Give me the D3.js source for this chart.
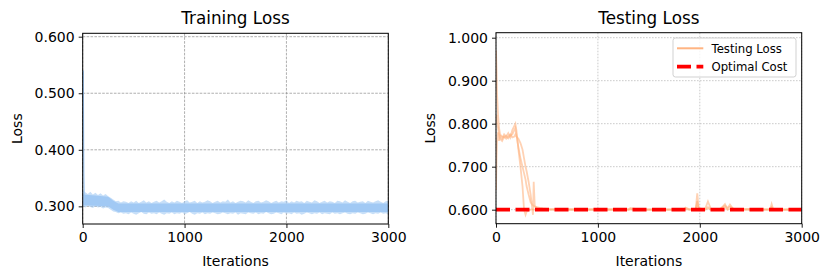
<!DOCTYPE html>
<html><head><meta charset="utf-8">
<script src="https://cdn.jsdelivr.net/npm/d3@7"></script>
<style>body{margin:0;background:#fff}svg{display:block}text{font-family:"DejaVu Sans",sans-serif;fill:#000}</style>
</head><body><svg id="c" width="831" height="280"></svg>
<script>
// ---------- data ----------
const xTicks = [0, 1000, 2000, 3000];
const trainYTicks = [0.3, 0.4, 0.5, 0.6];
const testYTicks = [0.6, 0.7, 0.8, 0.9, 1.0];

// training loss band: outer envelope every 25 iterations
const trainIters = d3.range(0, 3001, 25);
const trainUpper = [0.328,0.325,0.322,0.326,0.321,0.324,0.320,0.323,0.319,0.322,0.318,
0.315,0.312,0.309,0.310,0.307,0.309,
0.308,0.306,0.309,0.307,0.310,0.306,0.308,0.311,0.307,0.309,
0.306,0.308,0.310,0.307,0.309,0.312,0.308,0.306,0.309,0.307,
0.310,0.308,0.306,0.309,0.311,0.307,0.308,0.310,0.306,0.309,
0.307,0.308,0.311,0.309,0.306,0.308,0.310,0.307,0.309,0.308,
0.312,0.307,0.309,0.306,0.308,0.310,0.309,0.307,0.311,0.308,
0.306,0.309,0.310,0.307,0.308,0.311,0.309,0.306,0.308,0.310,
0.307,0.309,0.308,0.311,0.306,0.309,0.307,0.310,0.308,0.309,
0.306,0.310,0.308,0.307,0.311,0.309,0.306,0.308,0.310,0.307,
0.309,0.308,0.306,0.310,0.309,0.307,0.311,0.308,0.306,0.309,
0.310,0.307,0.308,0.309,0.306,0.310,0.308,0.307,0.309,0.311,
0.308,0.306,0.309,0.310];
const trainLower = [0.300,0.298,0.301,0.299,0.297,0.300,0.298,0.299,0.296,0.298,0.297,
0.294,0.291,0.290,0.288,0.289,0.287,
0.288,0.286,0.289,0.287,0.285,0.288,0.290,0.287,0.286,0.289,
0.287,0.288,0.286,0.289,0.287,0.285,0.288,0.287,0.289,0.286,
0.288,0.287,0.289,0.286,0.288,0.290,0.287,0.285,0.288,0.287,
0.289,0.286,0.288,0.287,0.289,0.288,0.286,0.287,0.289,0.288,
0.286,0.288,0.287,0.289,0.285,0.288,0.287,0.286,0.289,0.288,
0.287,0.289,0.286,0.288,0.287,0.290,0.288,0.286,0.287,0.289,
0.288,0.286,0.289,0.287,0.288,0.286,0.289,0.287,0.288,0.285,
0.287,0.289,0.288,0.286,0.288,0.287,0.289,0.286,0.288,0.287,
0.286,0.289,0.287,0.288,0.286,0.288,0.289,0.287,0.286,0.288,
0.287,0.289,0.288,0.286,0.287,0.289,0.288,0.286,0.288,0.287,
0.289,0.287,0.288,0.286];
// dense core of the training band
const trainCoreIters = [0, 120, 250, 300, 350, 3000];
const trainCoreLower = [0.302, 0.301, 0.300, 0.294, 0.290, 0.290];
const trainCoreUpper = [0.321, 0.319, 0.317, 0.310, 0.305, 0.305];
const trainSpikeIters = [6, 8, 11, 15];
const trainSpikeVals = [0.54, 0.45, 0.36, 0.32];

// testing loss (three runs)
const testIters = [0,5,10,20,30,40,60,80,100,120,140,160,180,190,200,220,240,260,275,290,300,320,340,355,363,370,380,400,430,460,500,600,800,1000,1200,1300,1320,1400,1600,1800,1850,1860,1900,1960,1975,1990,2050,2080,2110,2200,2247,2270,2296,2330,2400,2500,2600,2690,2705,2720,2800,2900,3000];
const testRunA = [0.97,0.93,0.87,0.82,0.79,0.775,0.77,0.768,0.772,0.766,0.772,0.775,0.785,0.79,0.775,0.745,0.72,0.70,0.685,0.67,0.655,0.635,0.617,0.612,0.61,0.609,0.607,0.606,0.604,0.603,0.602,0.601,0.600,0.601,0.600,0.601,0.604,0.600,0.601,0.600,0.601,0.605,0.601,0.602,0.615,0.603,0.601,0.606,0.601,0.602,0.61,0.604,0.607,0.602,0.601,0.602,0.600,0.601,0.606,0.601,0.600,0.601,0.600];
const testRunB = [0.646,0.72,0.76,0.78,0.76,0.772,0.765,0.775,0.77,0.778,0.768,0.785,0.795,0.80,0.785,0.74,0.70,0.655,0.60,0.588,0.595,0.598,0.600,0.601,0.600,0.600,0.600,0.601,0.600,0.600,0.600,0.600,0.601,0.600,0.600,0.600,0.601,0.600,0.600,0.600,0.600,0.603,0.600,0.601,0.638,0.602,0.600,0.619,0.601,0.600,0.613,0.602,0.612,0.601,0.600,0.601,0.600,0.600,0.613,0.601,0.600,0.600,0.600];
const testRunC = [0.80,0.82,0.80,0.79,0.775,0.765,0.76,0.77,0.765,0.77,0.775,0.768,0.77,0.775,0.77,0.765,0.755,0.74,0.72,0.70,0.69,0.665,0.635,0.605,0.588,0.665,0.61,0.603,0.601,0.600,0.600,0.600,0.600,0.600,0.601,0.600,0.602,0.600,0.600,0.600,0.600,0.601,0.600,0.600,0.62,0.601,0.600,0.603,0.600,0.600,0.606,0.600,0.602,0.600,0.600,0.600,0.601,0.600,0.603,0.600,0.600,0.600,0.600];
const optimalCost = 0.6;

// ---------- drawing ----------
const svg = d3.select("#c");
const fmt = d3.format(".3f");

function panel(o) {
  const g = svg.append("g");
  const x = d3.scaleLinear().domain([0, 3000]).range([o.left, o.right]);
  const y = d3.scaleLinear().domain(o.yDomain).range([o.bottom, o.top]);
  g.append("g").selectAll("line").data(xTicks).join("line")
    .attr("x1", d => x(d)).attr("x2", d => x(d)).attr("y1", o.top).attr("y2", o.bottom)
    .attr("stroke", o.gridColor).attr("stroke-width", 0.7).attr("stroke-dasharray", o.gridDash);
  g.append("g").selectAll("line").data(o.yTicks).join("line")
    .attr("x1", o.left).attr("x2", o.right).attr("y1", d => y(d)).attr("y2", d => y(d))
    .attr("stroke", o.gridColor).attr("stroke-width", 0.7).attr("stroke-dasharray", o.gridDash);
  const clip = "clip" + o.id;
  svg.append("clipPath").attr("id", clip).append("rect")
    .attr("x", o.left).attr("y", o.top).attr("width", o.right - o.left).attr("height", o.bottom - o.top);
  const data = g.append("g").attr("clip-path", `url(#${clip})`);
  o.draw(data, x, y);
  g.append("g").attr("transform", `translate(0,${o.bottom})`)
    .call(d3.axisBottom(x).tickValues(xTicks).tickFormat(d3.format("d")).tickSize(4).tickPadding(4))
    .call(s => { s.select(".domain").remove(); s.selectAll("text").attr("font-size", 14).attr("font-family", "DejaVu Sans"); s.selectAll("line").attr("stroke-width", 0.9); });
  g.append("g").attr("transform", `translate(${o.left},0)`)
    .call(d3.axisLeft(y).tickValues(o.yTicks).tickFormat(fmt).tickSize(4).tickPadding(4))
    .call(s => { s.select(".domain").remove(); s.selectAll("text").attr("font-size", 14).attr("font-family", "DejaVu Sans"); s.selectAll("line").attr("stroke-width", 0.9); });
  g.append("rect").attr("x", o.left).attr("y", o.top).attr("width", o.right - o.left).attr("height", o.bottom - o.top)
    .attr("fill", "none").attr("stroke", "#000").attr("stroke-width", 1);
  g.append("text").attr("x", (o.left + o.right) / 2).attr("y", 23.5).attr("text-anchor", "middle").attr("font-size", 16.8).text(o.title);
  g.append("text").attr("x", (o.left + o.right) / 2).attr("y", 266).attr("text-anchor", "middle").attr("font-size", 14).text("Iterations");
  g.append("text").attr("transform", `translate(${o.ylabX},${(o.top + o.bottom) / 2}) rotate(-90)`)
    .attr("text-anchor", "middle").attr("font-size", 14).text("Loss");
  return {g, x, y};
}

panel({
  id: "a", left: 82.7, right: 388.3, top: 33.3, bottom: 224,
  yDomain: [0.2688, 0.606], yTicks: trainYTicks, title: "Training Loss", ylabX: 22,
  gridColor: "#8c8c8c", gridDash: "2.6,1.3",
  draw: (g, x, y) => {
    const area = d3.area().x(d => x(d.t)).y0(d => y(d.lo)).y1(d => y(d.hi));
    g.append("path").datum(trainIters.map((t, i) => ({t, lo: trainLower[i], hi: trainUpper[i]})))
      .attr("d", area).attr("fill", "#a1c9f4").attr("fill-opacity", 0.6);
    g.append("path").datum(trainCoreIters.map((t, i) => ({t, lo: trainCoreLower[i], hi: trainCoreUpper[i]})))
      .attr("d", area).attr("fill", "#a1c9f4");
    g.append("path").datum(trainSpikeIters.map((t, i) => ({t, v: trainSpikeVals[i]})))
      .attr("d", d3.line().x(d => x(d.t)).y(d => y(d.v)))
      .attr("fill", "none").attr("stroke", "#a1c9f4").attr("stroke-width", 1.2);
  }
});

panel({
  id: "b", left: 496, right: 801.7, top: 32.7, bottom: 223.7,
  yDomain: [0.5674, 1.0116], yTicks: testYTicks, title: "Testing Loss", ylabX: 435,
  gridColor: "#b4b4b4", gridDash: "1.6,1.4",
  draw: (g, x, y) => {
    const line = d3.line().x(d => x(d.t)).y(d => y(d.v));
    [testRunA, testRunB, testRunC].forEach(run => {
      g.append("path").datum(testIters.map((t, i) => ({t, v: run[i]})))
        .attr("d", line).attr("fill", "none").attr("stroke", "#ffb482")
        .attr("stroke-width", 1.8).attr("stroke-opacity", 0.6);
    });
    g.append("line").attr("x1", x(0)).attr("x2", x(3000)).attr("y1", y(optimalCost)).attr("y2", y(optimalCost))
      .attr("stroke", "#ff0000").attr("stroke-width", 3.8).attr("stroke-dasharray", "14,5.5");
  }
});

// legend
const lg = svg.append("g");
lg.append("rect").attr("x", 673).attr("y", 38).attr("width", 123).attr("height", 39).attr("rx", 2.5)
  .attr("fill", "#fff").attr("fill-opacity", 0.8).attr("stroke", "#cccccc").attr("stroke-width", 0.9);
const legendItems = [
  {label: "Testing Loss", color: "#ffb482", w: 2, dash: null},
  {label: "Optimal Cost", color: "#ff0000", w: 3.8, dash: "14,5.5"}
];
legendItems.forEach((d, i) => {
  const yy = 48.3 + i * 18.4;
  lg.append("line").attr("x1", 677).attr("x2", 703.3).attr("y1", yy).attr("y2", yy)
    .attr("stroke", d.color).attr("stroke-width", d.w).attr("stroke-dasharray", d.dash);
  lg.append("text").attr("x", 711.5).attr("y", yy + 4.2).attr("font-size", 11.7).text(d.label);
});
</script></body></html>
